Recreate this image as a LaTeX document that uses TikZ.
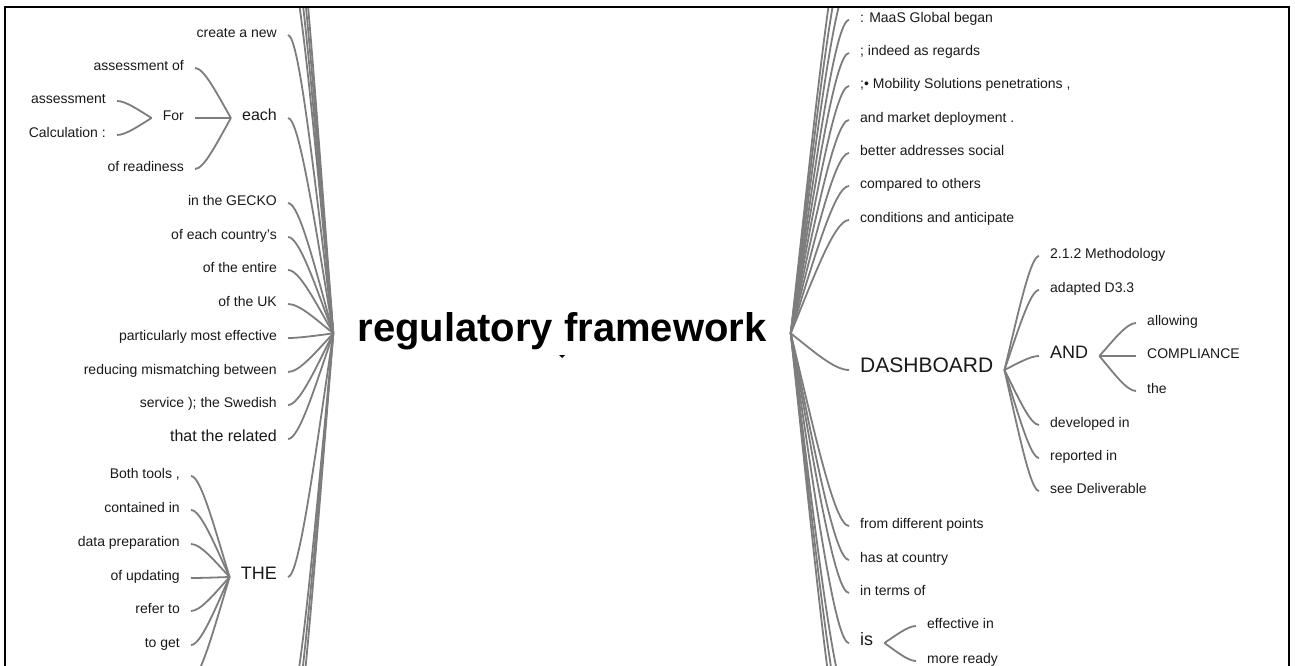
\documentclass[tikz,border=0pt]{standalone}
\usepackage{fontspec}
\setmainfont{Liberation Sans}
\usetikzlibrary{calc}
\definecolor{linkgray}{RGB}{125,125,125}
\definecolor{txt}{RGB}{25,25,25}

\tikzset{
  link/.style={draw=linkgray, line width=1.8pt},
  leaf/.style={inner xsep=11pt, inner ysep=0pt, yshift=-3pt, text=txt, font=\fontsize{14}{16}\selectfont},
  lleaf/.style={leaf, anchor=mid east},
  rleaf/.style={leaf, anchor=mid west},
  big/.style={font=\fontsize{16}{18}\selectfont},
  bigger/.style={font=\fontsize{18}{20}\selectfont},
  biggest/.style={font=\fontsize{21}{24}\selectfont},
  rootnode/.style={anchor=base, inner xsep=24pt, inner ysep=0pt, text=black,
    font=\fontsize{40}{44}\selectfont\bfseries},
}
% curved branch from a parent hub to a child's attachment point
\newcommand\branch[2]{%
  \path[link] let \p1=(#1), \p2=(#2) in
    (\p1) .. controls ({\x1+0.4*(\x2-\x1)},{\y1+0.5*(\y2-\y1)})
          and ({\x1+0.75*(\x2-\x1)},\y2) .. (\p2);}

\begin{document}
\begin{tikzpicture}[x=1pt,y=-1pt]
\useasboundingbox (0,0) rectangle (1295,666);

\begin{scope}
\clip (6,8) rectangle (1288,666);

% central topic
\node[rootnode] (root) at (562,341) {regulatory framework};
\coordinate (lhub) at ([yshift=5pt]root.mid west);
\coordinate (rhub) at ([yshift=5pt]root.mid east);
\fill[black] (559,355) -- (565,355) -- (562,358) -- cycle;

% ---- left side, first level ----
\coordinate (la) at (288,-40);
\coordinate (lb) at (288,-74);
\coordinate (lc) at (288,-108);
\coordinate (ld) at (288,-142);
\node[lleaf] (l1) at (288,32) {create a new};
\node[lleaf,big] (each) at (288,115) {each};
\node[lleaf] (l3) at (288,200) {in the GECKO};
\node[lleaf] (l4) at (288,234) {of each country's};
\node[lleaf] (l5) at (288,267) {of the entire};
\node[lleaf] (l6) at (288,301) {of the UK};
\node[lleaf] (l7) at (288,335) {particularly most effective};
\node[lleaf] (l8) at (288,369) {reducing mismatching between};
\node[lleaf] (l9) at (288,402) {service ); the Swedish};
\node[lleaf,big] (l10) at (288,436) {that the related};
\node[lleaf,bigger] (the) at (288,574) {THE};
\coordinate (le) at (288,712);
\coordinate (lf) at (288,746);
\coordinate (lg) at (288,780);

\foreach \k in {la,lb,lc,ld,le,lf,lg} {\branch{lhub}{\k}}
\foreach \k in {l1,each,l3,l4,l5,l6,l7,l8,l9,l10,the} {\branch{lhub}{\k.mid east}}

% "each" subtree
\node[lleaf] (e1) at (195,65) {assessment of};
\node[lleaf] (for) at (195,115) {For};
\node[lleaf] (e3) at (195,166) {of readiness};
\foreach \k in {e1,for,e3} {\branch{each.mid west}{\k.mid east}}
\node[lleaf] (f1) at (117,98) {assessment};
\node[lleaf] (f2) at (117,132) {Calculation :};
\foreach \k in {f1,f2} {\branch{for.mid west}{\k.mid east}}

% "THE" subtree
\node[lleaf] (t1) at (191,473) {Both tools ,};
\node[lleaf] (t2) at (191,507) {contained in};
\node[lleaf] (t3) at (191,541) {data preparation};
\node[lleaf] (t4) at (191,575) {of updating};
\node[lleaf] (t5) at (191,608) {refer to};
\node[lleaf] (t6) at (191,642) {to get};
\coordinate (t7) at (191,679);
\foreach \k in {t1,t2,t3,t4,t5,t6} {\branch{the.mid west}{\k.mid east}}
\branch{the.mid west}{t7}

% ---- right side, first level ----
\coordinate (ra) at (849,-16);
\coordinate (rb) at (849,-50);
\coordinate (rc) at (849,-83);
\node[rleaf] (r1) at (849,17) {: MaaS Global began};
\node[rleaf] (r2) at (849,50) {; indeed as regards};
\node[rleaf] (r3) at (849,83) {;• Mobility Solutions penetrations ,};
\node[rleaf] (r4) at (849,117) {and market deployment .};
\node[rleaf] (r5) at (849,150) {better addresses social};
\node[rleaf] (r6) at (849,183) {compared to others};
\node[rleaf] (r7) at (849,217) {conditions and anticipate};
\node[rleaf,biggest] (dash) at (849,367) {DASHBOARD};
\node[rleaf] (r9) at (849,523) {from different points};
\node[rleaf] (r10) at (849,557) {has at country};
\node[rleaf] (r11) at (849,590) {in terms of};
\node[rleaf,bigger] (is) at (849,640) {is};
\coordinate (rd) at (849,703);
\coordinate (re) at (849,737);
\coordinate (rf) at (849,771);

\foreach \k in {ra,rb,rc,rd,re,rf} {\branch{rhub}{\k}}
\foreach \k in {r1,r2,r3,r4,r5,r6,r7,dash,r9,r10,r11,is} {\branch{rhub}{\k.mid west}}

% "DASHBOARD" subtree
\node[rleaf] (d1) at (1039,253) {2.1.2 Methodology};
\node[rleaf] (d2) at (1039,287) {adapted D3.3};
\node[rleaf,bigger] (and) at (1039,353) {AND};
\node[rleaf] (d4) at (1039,422) {developed in};
\node[rleaf] (d5) at (1039,455) {reported in};
\node[rleaf] (d6) at (1039,488) {see Deliverable};
\foreach \k in {d1,d2,and,d4,d5,d6} {\branch{dash.mid east}{\k.mid west}}

% "AND" subtree
\node[rleaf] (a1) at (1136,320) {allowing};
\node[rleaf] (a2) at (1136,353) {COMPLIANCE};
\node[rleaf] (a3) at (1136,388) {the};
\foreach \k in {a1,a2,a3} {\branch{and.mid east}{\k.mid west}}

% "is" subtree
\node[rleaf] (i1) at (916,623) {effective in};
\node[rleaf] (i2) at (916,658) {more ready};
\foreach \k in {i1,i2} {\branch{is.mid east}{\k.mid west}}
\end{scope}

% outer frame
\draw[line width=2pt] (5,7) rectangle (1289,720);
\end{tikzpicture}
\end{document}
